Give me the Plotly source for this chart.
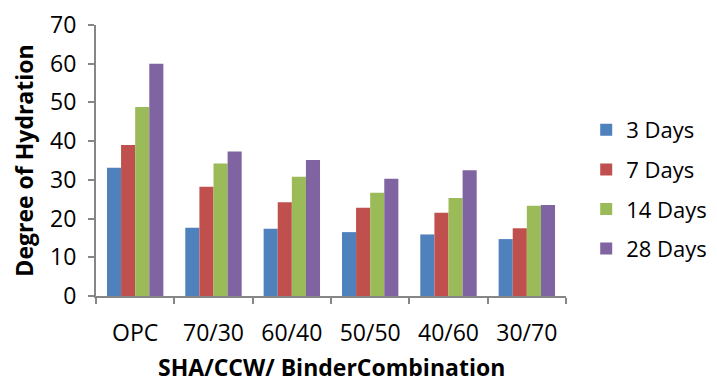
import plotly.graph_objects as go

categories = ["OPC", "70/30", "60/40", "50/50", "40/60", "30/70"]
series_names = ["3 Days", "7 Days", "14 Days", "28 Days"]
days3 = [33.1, 17.6, 17.4, 16.5, 15.9, 14.7]
days7 = [39.0, 28.2, 24.2, 22.8, 21.5, 17.5]
days14 = [48.8, 34.2, 30.8, 26.7, 25.3, 23.3]
days28 = [60.0, 37.3, 35.1, 30.3, 32.5, 23.5]
y_ticks = [0, 10, 20, 30, 40, 50, 60, 70]

colors = ["#4F81BD", "#C0504D", "#9BBB59", "#8064A2"]
font_family = "Open Sans, Liberation Sans, sans-serif"

fig = go.Figure()
for i, (name, vals) in enumerate(zip(series_names, [days3, days7, days14, days28])):
    fig.add_trace(go.Bar(x=categories, y=vals, name=name, legendgroup=name,
                         marker=dict(color=colors[i], line=dict(width=0))))

fig.update_layout(
    width=717, height=384,
    margin=dict(l=88, r=159, t=17, b=96),
    paper_bgcolor="white", plot_bgcolor="white",
    barmode="group", bargap=0.28, bargroupgap=0,
    font=dict(family=font_family, size=22, color="black"),
    showlegend=True,
    legend=dict(x=1.043, y=0.393, xanchor="left", yanchor="middle",
                font=dict(size=22), tracegroupgap=8, itemwidth=30),
    xaxis=dict(
        automargin=False,
        showline=True, linecolor="#868686", linewidth=2,
        ticks="outside", ticklen=6, tickcolor="#868686", tickwidth=2,
        tickson="boundaries", tickfont=dict(size=23),
        ticklabelstandoff=15,
    ),
    yaxis=dict(
        automargin=False,
        range=[0, 70], tickvals=y_ticks, showgrid=False, zeroline=False,
        showline=True, linecolor="#868686", linewidth=2,
        ticks="outside", ticklen=6, tickcolor="#868686", tickwidth=2,
        tickfont=dict(size=23), ticklabelstandoff=7,
        title=dict(text="<b>Degree of Hydration</b>", font=dict(size=23), standoff=13),
    ),
    annotations=[dict(
        text="<b>SHA/CCW/ BinderCombination</b>", xref="paper", yref="paper",
        x=0.5, y=-0.262, xanchor="center", yanchor="middle", showarrow=False,
        font=dict(size=23, family=font_family, color="black"),
    )],
)

fig.write_html("out.html")
